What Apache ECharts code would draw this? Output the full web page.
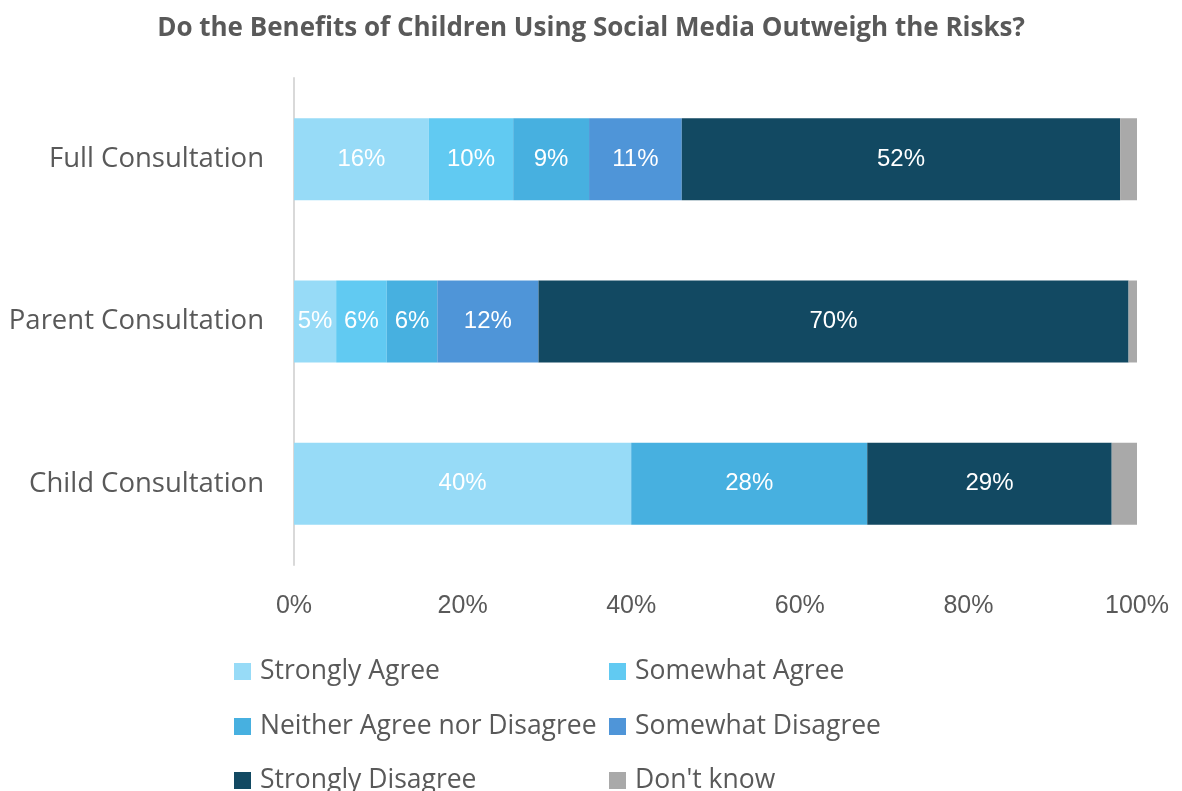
<!DOCTYPE html>
<html>
<head>
<meta charset="utf-8">
<script src="https://cdn.jsdelivr.net/npm/echarts@6/dist/echarts.min.js"></script>
<style>
  html, body { margin: 0; padding: 0; background: #ffffff; }
  #chart { width: 1182px; height: 791px; }
</style>
</head>
<body>
<div id="chart"></div>
<script>
// Survey groups, top to bottom
const categories = ['Full Consultation', 'Parent Consultation', 'Child Consultation'];

// Response shares (%) per group
const stronglyAgree    = [16, 5, 40];
const somewhatAgree    = [10, 6, null];
const neitherAgree     = [9, 6, 28];
const somewhatDisagree = [11, 12, null];
const stronglyDisagree = [52, 70, 29];
const dontKnow         = [2, 1, 3];

const xTicks = [0, 20, 40, 60, 80, 100];

const seriesNames = ['Strongly Agree', 'Somewhat Agree', 'Neither Agree nor Disagree',
                     'Somewhat Disagree', 'Strongly Disagree', "Don't know"];
const seriesData = [stronglyAgree, somewhatAgree, neitherAgree, somewhatDisagree, stronglyDisagree, dontKnow];
const colors = ['#97dbf7', '#61caf2', '#47b0e0', '#4f95d8', '#124962', '#a9a9a9'];

const textGray = '#595959';
const uiFont = '"Open Sans", "Noto Sans", sans-serif';
const numFont = '"Liberation Sans", Arial, sans-serif';

const series = seriesNames.map((name, i) => ({
  name: name,
  type: 'bar',
  stack: 'total',
  barWidth: '50.5%',
  data: seriesData[i],
  itemStyle: { color: colors[i] },
  label: {
    show: i < 5,
    position: 'inside',
    color: '#ffffff',
    fontSize: 24,
    fontFamily: numFont,
    formatter: p => (p.value == null ? '' : p.value + '%')
  },
  emphasis: { disabled: true }
}));

// Legend laid out as two columns of three rows
const legendCols = [234, 609];
const legendRows = [658, 713, 767];
const legends = seriesNames.map((name, i) => ({
  data: [name],
  left: legendCols[i % 2],
  top: legendRows[Math.floor(i / 2)],
  padding: 0,
  icon: 'rect',
  itemWidth: 17,
  itemHeight: 17,
  itemGap: 0,
  selectedMode: false,
  textStyle: {
    color: textGray, fontSize: 26.5, lineHeight: 26,
    fontFamily: uiFont, padding: [0, 0, 0, 4]
  }
}));

const chart = echarts.init(document.getElementById('chart'), null, { renderer: 'canvas' });
chart.setOption({
  animation: false,
  color: colors,
  title: {
    text: 'Do the Benefits of Children Using Social Media Outweigh the Risks?',
    left: 'center',
    top: 11,
    textStyle: { color: textGray, fontSize: 26, fontWeight: 'bold', fontFamily: uiFont }
  },
  legend: legends,
  grid: { left: 294, right: 45, top: 78, bottom: 226 },
  xAxis: {
    type: 'value',
    min: xTicks[0],
    max: xTicks[xTicks.length - 1],
    interval: 20,
    axisLine: { show: false },
    axisTick: { show: false },
    splitLine: { show: false },
    axisLabel: {
      color: textGray,
      fontSize: 25,
      fontFamily: numFont,
      margin: 29,
      formatter: v => v + '%'
    }
  },
  yAxis: {
    type: 'category',
    inverse: true,
    data: categories,
    axisLine: { show: true, lineStyle: { color: '#d9d9d9', width: 2 } },
    axisTick: { show: false },
    axisLabel: {
      color: textGray,
      fontSize: 27.5,
      fontFamily: uiFont,
      margin: 30
    }
  },
  series: series
});
</script>
</body>
</html>
